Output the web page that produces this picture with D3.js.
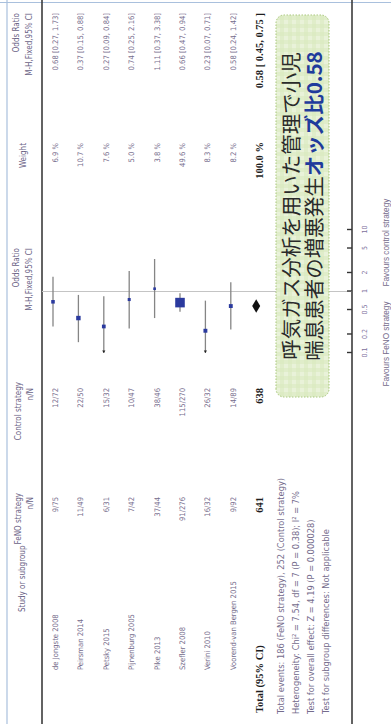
<!DOCTYPE html>
<html><head><meta charset="utf-8">
<script src="https://cdn.jsdelivr.net/npm/d3@7"></script>
<style>body{margin:0;background:#fff;overflow:hidden}svg{display:block}</style>
</head><body>
<svg id="c" width="391" height="724"></svg>
<script>
const studies = ["de Jongste 2008","Peirsman 2014","Petsky 2015","Pijnenburg 2005","Pike 2013","Szefler 2008","Verini 2010","Voorend-van Bergen 2015"];
const fenoEvents = [9,11,6,7,37,91,16,9];
const fenoTotal = [75,49,31,42,44,276,32,92];
const ctrlEvents = [12,22,15,10,38,115,26,14];
const ctrlTotal = [72,50,32,47,46,270,32,89];
const weights = [6.9,10.7,7.6,5.0,3.8,49.6,8.3,8.2];
const oddsRatio = [0.68,0.37,0.27,0.74,1.11,0.66,0.23,0.58];
const ciLow = [0.27,0.15,0.09,0.25,0.37,0.47,0.07,0.24];
const ciHigh = [1.73,0.88,0.84,2.16,3.38,0.94,0.71,1.42];
const totalLabel = "Total (95% CI)";
const totalFeno = 641, totalCtrl = 638, totalWeight = 100.0;
const totalOR = [0.58, 0.45, 0.75];
const axisTicks = [0.1,0.2,0.5,1,2,5,10];
const favoursLabels = ["Favours FeNO strategy","Favours control strategy"];
const footnotes = [
  "Total events: 186 (FeNO strategy), 252 (Control strategy)",
  "Heterogeneity: Chi\u00B2 = 7.54, df = 7 (P = 0.38); I\u00B2 = 7%",
  "Test for overall effect: Z = 4.19 (P = 0.000028)",
  "Test for subgroup differences: Not applicable"
];
const calloutLine1 = "呼気ガス分析を用いた管理で小児";
const calloutLine2a = "喘息患者の増悪発生";
const calloutLine2b = "オッズ比0.58";

const W = 724, H = 391;
const svg = d3.select("#c");
const defs = svg.append("defs");
const pat = defs.append("pattern").attr("id","plaid").attr("width",8).attr("height",8).attr("patternUnits","userSpaceOnUse");
pat.append("rect").attr("width",8).attr("height",8).attr("fill","#e9f2d9");
pat.append("rect").attr("width",4).attr("height",8).attr("fill","#d9e9bd").attr("opacity",0.55);
pat.append("rect").attr("width",8).attr("height",4).attr("fill","#d9e9bd").attr("opacity",0.55);

// landscape layout rotated -90deg
const g = svg.append("g").attr("transform",`translate(0,${W}) rotate(-90)`);

const NARROW = "'Liberation Sans Narrow','DejaVu Sans Condensed','Arial Narrow',sans-serif";
const REG = "'Liberation Sans',Arial,sans-serif";
const txtCol = "#756c8c", hdrCol = "#6a6285";

const x = d3.scaleLog().domain([0.1,10]).range([371,494]);
const row = d3.scaleLinear().domain([0,8]).range([53,256.2]);
const sq = d3.scaleSqrt().domain([0,50]).range([0,9.6]);

// frame
g.append("line").attr("x1",0).attr("x2",W).attr("y1",7).attr("y2",7).attr("stroke","#a9c0dd").attr("stroke-width",1.2);
g.append("line").attr("x1",W-2.5).attr("x2",W-2.5).attr("y1",0).attr("y2",H).attr("stroke","#a9c0dd").attr("stroke-width",1.2);
// dark rules
g.append("line").attr("x1",0).attr("x2",W).attr("y1",42).attr("y2",42).attr("stroke","#3c3c3c").attr("stroke-width",1.6);
g.append("line").attr("x1",0).attr("x2",W).attr("y1",352).attr("y2",352).attr("stroke","#3c3c3c").attr("stroke-width",1.6);

// headers
const hdr = [
  {t:"Study or subgroup",u:112,v:22,a:"start"},
  {t:"FeNO strategy",u:231,v:18,a:"end"},{t:"n/N",u:227,v:30,a:"end"},
  {t:"Control strategy",u:342,v:18,a:"end"},{t:"n/N",u:336,v:30,a:"end"},
  {t:"Odds Ratio",u:476,v:16,a:"end"},{t:"M-H,Fixed,95% CI",u:476,v:29,a:"end"},
  {t:"Weight",u:581,v:23,a:"end"},
  {t:"Odds Ratio",u:711,v:16,a:"end"},{t:"M-H,Fixed,95% CI",u:711,v:29,a:"end"}
];
g.selectAll("text.hdr").data(hdr).join("text").attr("class","hdr")
  .attr("x",d=>d.u).attr("y",d=>d.v).attr("text-anchor",d=>d.a)
  .attr("dominant-baseline","central").attr("font-family",NARROW).attr("font-size",8).attr("fill",hdrCol).text(d=>d.t);

// reference line at OR = 1
g.append("line").attr("x1",x(1)).attr("x2",x(1)).attr("y1",42).attr("y2",352).attr("stroke","#c4c4c4").attr("stroke-width",1.2);

// rows
const rows = studies.map((s,i)=>({s,i,fe:fenoEvents[i],ft:fenoTotal[i],ce:ctrlEvents[i],ct:ctrlTotal[i],w:weights[i],or:oddsRatio[i],lo:ciLow[i],hi:ciHigh[i]}));
const rg = g.selectAll("g.row").data(rows).join("g").attr("class","row");
const tv = d=>row(d.i)+2.5;
const rowText = (sel)=>sel.attr("dominant-baseline","central").attr("font-family",NARROW).attr("font-size",7.6).attr("fill",txtCol);
rg.append("text").call(rowText).attr("x",54).attr("y",tv).text(d=>d.s);
rg.append("text").call(rowText).attr("x",227).attr("y",tv).attr("text-anchor","end").text(d=>`${d.fe}/${d.ft}`);
rg.append("text").call(rowText).attr("x",336).attr("y",tv).attr("text-anchor","end").text(d=>`${d.ce}/${d.ct}`);
rg.append("text").call(rowText).attr("x",581).attr("y",tv).attr("text-anchor","end").text(d=>`${d.w.toFixed(1)} %`);
rg.append("text").call(rowText).attr("x",711).attr("y",tv).attr("text-anchor","end").text(d=>`${d.or.toFixed(2)} [${d.lo.toFixed(2)}, ${d.hi.toFixed(2)}]`);

// CI lines
const [dmin,dmax] = x.domain();
rg.append("line").attr("x1",d=>x(Math.max(d.lo,dmin))).attr("x2",d=>x(Math.min(d.hi,dmax)))
  .attr("y1",d=>row(d.i)).attr("y2",d=>row(d.i)).attr("stroke","#858585").attr("stroke-width",1.3);
rg.filter(d=>d.lo<dmin).append("path")
  .attr("d",d=>{const u=x(dmin),v=row(d.i);return `M${u},${v} l2.6,-1.6 l0,3.2 z`;}).attr("fill","#222");
rg.append("rect").attr("x",d=>x(d.or)-Math.max(2,sq(d.w))/2).attr("y",d=>row(d.i)-Math.max(2,sq(d.w))/2)
  .attr("width",d=>Math.max(2,sq(d.w))).attr("height",d=>Math.max(2,sq(d.w))).attr("fill","#2b3a9e");

// total row
const tvT = row(8)+3;
const bold = (sel)=>sel.attr("dominant-baseline","central").attr("font-family","'Liberation Serif','DejaVu Serif',serif").attr("font-weight","bold").attr("font-size",10.5).attr("fill","#1e1e1e");
g.append("text").call(bold).attr("x",11).attr("y",tvT).text(totalLabel);
g.append("text").call(bold).attr("x",227).attr("y",tvT).attr("text-anchor","end").text(totalFeno);
g.append("text").call(bold).attr("x",336).attr("y",tvT).attr("text-anchor","end").text(totalCtrl);
g.append("text").call(bold).attr("x",582).attr("y",tvT).attr("text-anchor","end").text(`${totalWeight.toFixed(1)} %`);
g.append("text").call(bold).attr("x",711).attr("y",tvT).attr("text-anchor","end").text(`${totalOR[0].toFixed(2)} [ ${totalOR[1].toFixed(2)}, ${totalOR[2].toFixed(2)} ]`);
const dv = row(8);
g.append("path").attr("d",`M${x(totalOR[1])},${dv} L${x(totalOR[0])},${dv-4} L${x(totalOR[2])},${dv} L${x(totalOR[0])},${dv+4} Z`).attr("fill","#111");

// footnotes
g.selectAll("text.fn").data(footnotes).join("text").attr("class","fn")
  .attr("x",10).attr("y",(d,i)=>280+i*15.3).attr("dominant-baseline","central")
  .attr("font-family",NARROW).attr("font-size",9.2).attr("fill",txtCol).text(d=>d);

// axis
const ax = g.append("g").attr("transform","translate(0,352)")
  .call(d3.axisBottom(x).tickValues(axisTicks).tickFormat(d=>String(d)).tickSizeInner(-5).tickSizeOuter(0).tickPadding(10));
ax.select(".domain").remove();
ax.selectAll(".tick line").attr("stroke","#333").attr("stroke-width",1.4);
ax.selectAll(".tick text").attr("font-family",NARROW).attr("font-size",7).attr("fill","#7c6f9c");
g.append("text").attr("x",x(1)-10).attr("y",386).attr("text-anchor","end").attr("dominant-baseline","central")
  .attr("font-family",REG).attr("font-size",8.2).attr("fill",txtCol).text(favoursLabels[0]);
g.append("text").attr("x",x(1)+5).attr("y",386).attr("text-anchor","start").attr("dominant-baseline","central")
  .attr("font-family",REG).attr("font-size",8.2).attr("fill",txtCol).text(favoursLabels[1]);

// callout
g.append("rect").attr("x",327).attr("y",276).attr("width",382).attr("height",53).attr("rx",8)
  .attr("fill","url(#plaid)").attr("stroke","#a8c77a").attr("stroke-width",1).attr("stroke-dasharray","1.5,1.5");
const jp = "'Noto Sans CJK JP',sans-serif";
g.append("text").attr("x",518).attr("y",290).attr("text-anchor","middle").attr("dominant-baseline","central")
  .attr("font-family",jp).attr("font-size",20.5).attr("fill","#2a2a2a").text(calloutLine1);
const t2 = g.append("text").attr("x",518).attr("y",313).attr("text-anchor","middle").attr("dominant-baseline","central")
  .attr("font-family",jp).attr("font-size",20.5).attr("fill","#2a2a2a");
t2.append("tspan").text(calloutLine2a);
t2.append("tspan").attr("font-weight","bold").attr("fill","#1f3b9c").text(calloutLine2b);
</script>
</body></html>
